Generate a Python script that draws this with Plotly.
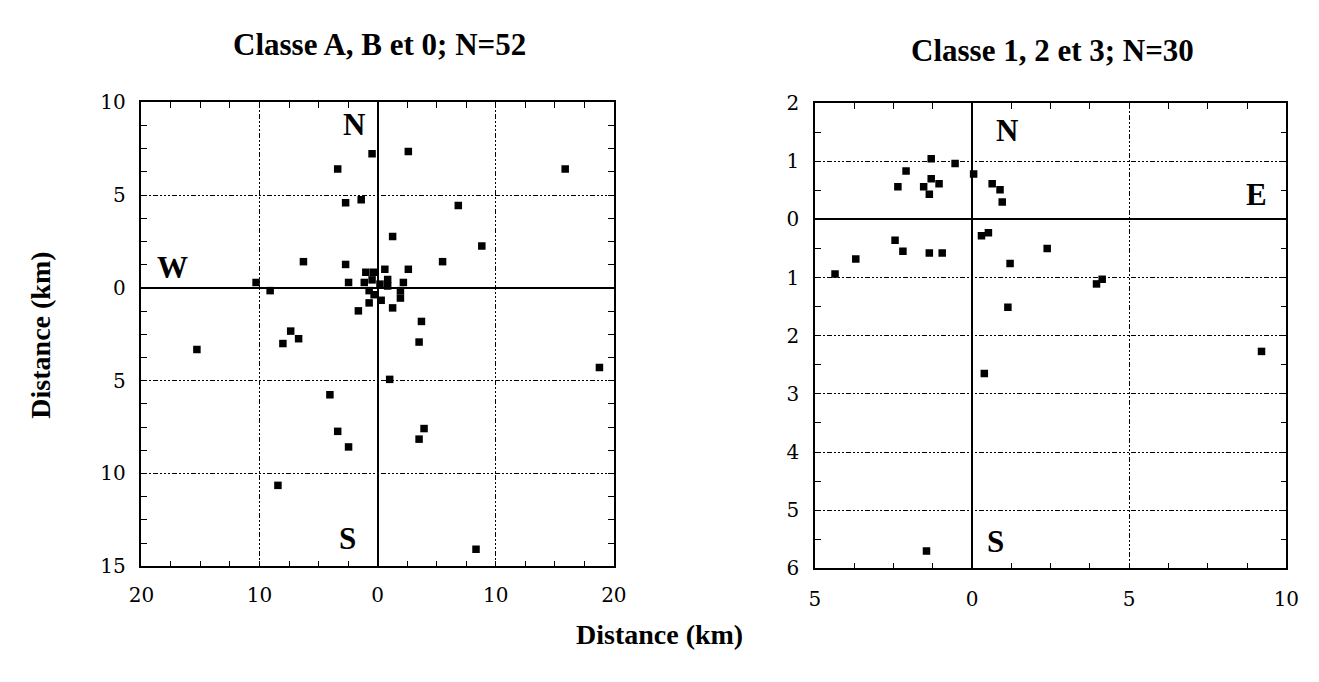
import plotly.graph_objects as go

# ---- Data: Classe A, B et 0 (N=52), distances in km (E+/W-, N+/S-) ----
ab0_x = [-0.47, -3.38, -2.71, -1.39, -6.28, -2.71, -1.0, -0.36, -10.29, -2.46,
         -1.13, -0.47, -9.1, -0.72, -0.3, 0.2, 0.3, -0.72, -1.63, -7.36,
         -6.69, -8.02, -15.3, -4.04, -3.38, -2.46, -8.44, 2.6, 15.88, 6.83,
         1.27, 8.82, 5.5, 0.61, 2.6, 0.85, 0.85, 2.18, 1.93, 1.93,
         1.27, 3.71, 3.51, 18.78, 1.02, 3.93, 3.51, 8.33]
ab0_y = [7.23, 6.40, 4.58, 4.74, 1.41, 1.26, 0.84, 0.84, 0.29, 0.29,
         0.29, 0.43, -0.15, -0.15, -0.37, 0.2, -0.67, -0.81, -1.24, -2.33,
         -2.74, -3.0, -3.32, -5.76, -7.73, -8.57, -10.64, 7.34, 6.40, 4.43,
         2.76, 2.25, 1.41, 1.0, 1.0, 0.45, 0.1, 0.29, -0.15, -0.55,
         -1.08, -1.81, -2.92, -4.29, -4.93, -7.58, -8.15, -14.08]

# ---- Data: Classe 1, 2 et 3 (N=30) ----
c123_x = [-1.30, -0.54, -2.1, 0.05, -1.30, -1.05, -2.36, -1.54, -1.36, 0.64,
          0.89, 0.96, -2.45, -2.2, -1.36, -0.95, -3.7, -4.36, 0.3, 0.52,
          1.21, 1.14, 2.39, 3.96, 4.14, 9.21, 0.39, -1.45]
c123_y = [1.04, 0.96, 0.83, 0.78, 0.70, 0.61, 0.56, 0.56, 0.43, 0.61,
          0.51, 0.30, -0.36, -0.55, -0.58, -0.58, -0.68, -0.94, -0.28, -0.23,
          -0.76, -1.51, -0.5, -1.11, -1.03, -2.27, -2.65, -5.70]

# ---- Tick labels (absolute distances) ----
l_xvals = [-20, -10, 0, 10, 20]
l_xtext = ["20", "10", "0", "10", "20"]
l_yvals = [10, 5, 0, -5, -10, -15]
l_ytext = ["10", "5", "0", "5", "10", "15"]
r_xvals = [-5, 0, 5, 10]
r_xtext = ["5", "0", "5", "10"]
r_yvals = [2, 1, 0, -1, -2, -3, -4, -5, -6]
r_ytext = ["2", "1", "0", "1", "2", "3", "4", "5", "6"]

titles = ["Classe A, B et 0; N=52", "Classe 1, 2 et 3; N=30"]
axis_title = "Distance (km)"

SERIF = "Liberation Serif"
TICKFONT = dict(family="DejaVu Serif", size=20, color="black")
GRIDDASH = "2px,2px,2px,2px,2px,2px,5px,2px"

marker = dict(symbol="square", size=7.5, color="black", line=dict(width=0))

fig = go.Figure()
fig.add_trace(go.Scatter(x=ab0_x, y=ab0_y, mode="markers", marker=marker,
                         xaxis="x", yaxis="y", showlegend=False, hoverinfo="x+y"))
fig.add_trace(go.Scatter(x=c123_x, y=c123_y, mode="markers", marker=marker,
                         xaxis="x2", yaxis="y2", showlegend=False, hoverinfo="x+y"))


def axis(rng, vals, text, minor_dtick, domain, anchor, standoff):
    return dict(
        range=rng, domain=domain, anchor=anchor,
        tickmode="array", tickvals=vals, ticktext=text,
        showline=True, linecolor="black", linewidth=1.5, mirror="ticks",
        ticks="inside", ticklen=6, tickwidth=1, tickcolor="black",
        showgrid=True, gridcolor="black", gridwidth=1.2, griddash=GRIDDASH,
        zeroline=True, zerolinecolor="black", zerolinewidth=1.5,
        minor=dict(tickmode="linear", tick0=0, dtick=minor_dtick,
                   ticks="inside", ticklen=6, tickwidth=1, tickcolor="black",
                   showgrid=False),
        tickfont=TICKFONT, ticklabelstandoff=standoff, fixedrange=True,
    )


fig.update_layout(
    width=1319, height=682,
    margin=dict(l=0, r=0, t=0, b=0),
    paper_bgcolor="white", plot_bgcolor="white",
    xaxis=axis([-20, 20], l_xvals, l_xtext, 2.5, [0.0993, 0.4647], "y", 10),
    yaxis=axis([-15, 10], l_yvals, l_ytext, 1.25, [0.1576, 0.8629], "x", 10),
    xaxis2=axis([-5, 10], r_xvals, r_xtext, 1.25, [0.6202, 0.9848], "y2", 12),
    yaxis2=axis([-6, 2], r_yvals, r_ytext, 0.5, [0.1544, 0.8617], "x2", 10),
)

ann = []
# panel titles
ann.append(dict(text="<b>%s</b>" % titles[0], x=374 / 1319, y=1 - 34 / 682, xref="paper", yref="paper",
                xanchor="center", yanchor="middle", showarrow=False,
                font=dict(family=SERIF, size=31, color="black")))
ann.append(dict(text="<b>%s</b>" % titles[1], x=1060 / 1319, y=1 - 40 / 682, xref="paper", yref="paper",
                xanchor="center", yanchor="middle", showarrow=False,
                font=dict(family=SERIF, size=31, color="black")))
# axis titles
ann.append(dict(text="<b>%s</b>" % axis_title, x=660 / 1319, y=1 - 645 / 682, xref="paper", yref="paper",
                xanchor="center", yanchor="middle", showarrow=False,
                font=dict(family=SERIF, size=28, color="black")))
ann.append(dict(text="<b>%s</b>" % axis_title, x=28 / 1319, y=1 - 335 / 682, xref="paper", yref="paper",
                xanchor="center", yanchor="middle", showarrow=False, textangle=-90,
                font=dict(family=SERIF, size=28, color="black")))
# compass letters
compass = [("N", -2.0, 8.8, "x", "y"), ("S", -2.57, -13.5, "x", "y"), ("W", -17.4, 1.1, "x", "y"),
           ("N", 1.1, 1.53, "x2", "y2"), ("S", 0.76, -5.54, "x2", "y2"), ("E", 9.04, 0.42, "x2", "y2")]
for t, cx, cy, xr, yr in compass:
    ann.append(dict(text="<b>%s</b>" % t, x=cx, y=cy, xref=xr, yref=yr, showarrow=False,
                    xanchor="center", yanchor="middle",
                    font=dict(family=SERIF, size=31, color="black")))
fig.update_layout(annotations=ann)

fig.write_html("out.html", config={"displayModeBar": False},
               post_script="document.body.style.margin='0';document.body.style.overflow='hidden';")
